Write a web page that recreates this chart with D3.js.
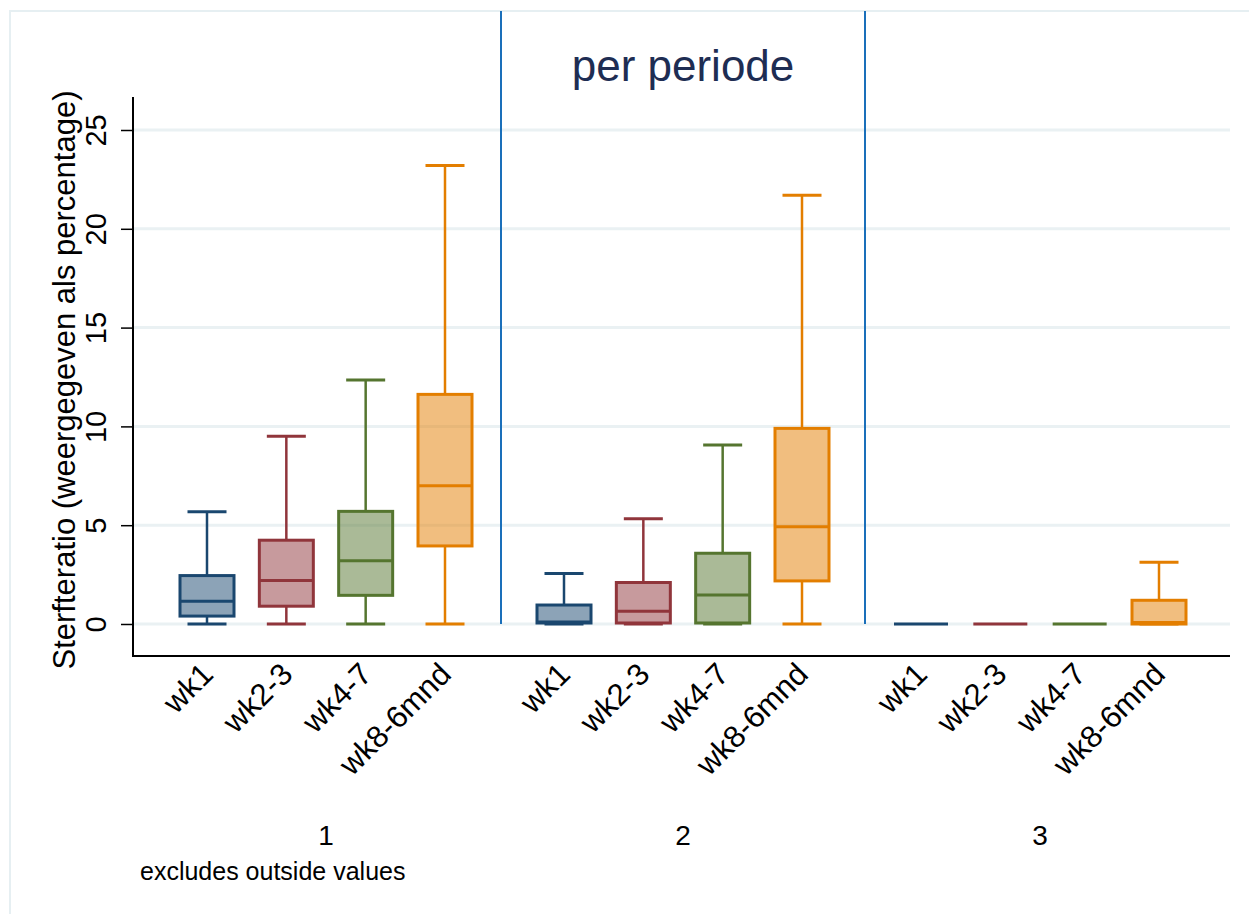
<!DOCTYPE html>
<html lang="nl">

<head>
    <meta charset="UTF-8">
    <title>per periode</title>
    <script src="https://d3js.org/d3.v7.min.js"></script>
    <style>
        body { margin: 0; background: #fff; }
        svg text { font-family: "Liberation Sans", Arial, sans-serif; }
    </style>
</head>

<body>
    <svg width="1249" height="914" class="block"></svg>
</body>

<script>
    // groepen (periode) en categorieen
    var groups = ['1', '2', '3'];
    var cats = ['wk1', 'wk2-3', 'wk4-7', 'wk8-6mnd'];
    var colors = ['#1a476f', '#90353b', '#55752f', '#e37e00'];
    var yTicks = [0, 5, 10, 15, 20, 25];

    // boxplot waarden per groep, in volgorde van cats
    var lower = [[0, 0, 0, 0], [0, 0, 0, 0], [0, 0, 0, 0]];
    var q1 = [[0.4, 0.9, 1.45, 3.95], [0.05, 0.05, 0.05, 2.18], [0, 0, 0, 0]];
    var median = [[1.15, 2.2, 3.2, 7.0], [0.1, 0.65, 1.47, 4.92], [0, 0, 0, 0.08]];
    var q3 = [[2.45, 4.24, 5.7, 11.62], [0.96, 2.1, 3.58, 9.9], [0, 0, 0, 1.2]];
    var upper = [[5.68, 9.5, 12.35, 23.2], [2.55, 5.33, 9.06, 21.7], [0, 0, 0, 3.12]];

    var svg = d3.select('.block');

    // rand rondom de grafiek
    svg.append('rect')
        .attr('x', 10).attr('y', 11)
        .attr('width', 1400).attr('height', 1000)
        .attr('fill', 'none')
        .attr('stroke', '#e6eff2')
        .attr('stroke-width', 2);

    var plotL = 133, plotR = 1230, plotT = 97, plotB = 656;

    var y = d3.scaleLinear().domain([-1.62, 26.67]).range([plotB, plotT]);
    var xGroup = d3.scaleBand().domain(groups).range([147.5, 1218.5]);
    var xCat = d3.scalePoint().domain(cats).range([-119, 119]);

    function cx(gi, ci) {
        return xGroup(groups[gi]) + xGroup.bandwidth() / 2 + xCat(cats[ci]);
    }

    // rasterlijnen
    svg.append('g').selectAll('line')
        .data(yTicks)
        .enter()
        .append('line')
        .attr('x1', plotL).attr('x2', plotR)
        .attr('y1', function (d) { return y(d); })
        .attr('y2', function (d) { return y(d); })
        .attr('stroke', '#eaf1f3')
        .attr('stroke-width', 3);

    // y-as
    var yAxis = d3.axisLeft(y).tickValues(yTicks).tickSize(12).tickSizeOuter(0).tickFormat(d3.format('d'));
    var ga = svg.append('g')
        .attr('transform', 'translate(' + plotL + ',0)')
        .call(yAxis);
    ga.select('.domain').attr('d', 'M0,' + plotT + 'V' + plotB).attr('stroke', '#000').attr('stroke-width', 2);
    ga.selectAll('.tick line').attr('stroke', '#000').attr('stroke-width', 1.5);
    ga.selectAll('.tick text')
        .attr('x', 0).attr('y', 0).attr('dy', 0)
        .attr('transform', 'translate(-27,0) rotate(-90)')
        .attr('text-anchor', 'middle')
        .attr('font-size', 29)
        .attr('fill', '#000');

    // x-as lijn
    svg.append('line')
        .attr('x1', plotL - 1).attr('x2', plotR)
        .attr('y1', plotB).attr('y2', plotB)
        .attr('stroke', '#000').attr('stroke-width', 2);

    // scheidingslijnen tussen de periodes
    svg.append('g').selectAll('line')
        .data([501, 865])
        .enter()
        .append('line')
        .attr('x1', function (d) { return d; })
        .attr('x2', function (d) { return d; })
        .attr('y1', 11).attr('y2', y(0))
        .attr('stroke', '#1a6fba')
        .attr('stroke-width', 2);

    // boxen
    var boxes = [];
    groups.forEach(function (g, gi) {
        cats.forEach(function (c, ci) {
            boxes.push({
                gi: gi, ci: ci, lo: lower[gi][ci], q1: q1[gi][ci], med: median[gi][ci],
                q3: q3[gi][ci], hi: upper[gi][ci]
            });
        });
    });

    var boxW = 54, capW = 39;
    var b = svg.append('g').selectAll('g')
        .data(boxes)
        .enter()
        .append('g')
        .attr('stroke', function (d) { return colors[d.ci]; })
        .attr('fill', 'none');

    // whiskers
    b.append('line')
        .attr('x1', function (d) { return cx(d.gi, d.ci); })
        .attr('x2', function (d) { return cx(d.gi, d.ci); })
        .attr('y1', function (d) { return y(d.hi); })
        .attr('y2', function (d) { return y(d.q3); })
        .attr('stroke-width', 2.5);
    b.append('line')
        .attr('x1', function (d) { return cx(d.gi, d.ci); })
        .attr('x2', function (d) { return cx(d.gi, d.ci); })
        .attr('y1', function (d) { return y(d.q1); })
        .attr('y2', function (d) { return y(d.lo); })
        .attr('stroke-width', 2.5);
    // caps
    b.filter(function (d) { return d.hi > d.q3; })
        .selectAll('.cap')
        .data(function (d) { return [{ d: d, v: d.hi }, { d: d, v: d.lo }]; })
        .enter()
        .append('line')
        .attr('x1', function (e) { return cx(e.d.gi, e.d.ci) - capW / 2; })
        .attr('x2', function (e) { return cx(e.d.gi, e.d.ci) + capW / 2; })
        .attr('y1', function (e) { return y(e.v); })
        .attr('y2', function (e) { return y(e.v); })
        .attr('stroke-width', 3);

    // box
    b.append('rect')
        .attr('x', function (d) { return cx(d.gi, d.ci) - boxW / 2; })
        .attr('y', function (d) { return y(d.q3); })
        .attr('width', boxW)
        .attr('height', function (d) { return y(d.q1) - y(d.q3); })
        .attr('fill', function (d) { return colors[d.ci]; })
        .attr('fill-opacity', 0.5)
        .attr('stroke-width', 3);
    // mediaan
    b.append('line')
        .attr('x1', function (d) { return cx(d.gi, d.ci) - boxW / 2; })
        .attr('x2', function (d) { return cx(d.gi, d.ci) + boxW / 2; })
        .attr('y1', function (d) { return y(d.med); })
        .attr('y2', function (d) { return y(d.med); })
        .attr('stroke-width', 3);

    // categorie labels, schuin
    svg.append('g').selectAll('text')
        .data(boxes)
        .enter()
        .append('text')
        .attr('transform', function (d) {
            return 'translate(' + (cx(d.gi, d.ci) + 8) + ',' + 676 + ') rotate(-45)';
        })
        .attr('text-anchor', 'end')
        .attr('font-size', 31)
        .attr('fill', '#000')
        .text(function (d) { return cats[d.ci]; });

    // groep labels
    svg.append('g').selectAll('text')
        .data(groups)
        .enter()
        .append('text')
        .attr('x', function (d) { return xGroup(d) + xGroup.bandwidth() / 2; })
        .attr('y', 845)
        .attr('text-anchor', 'middle')
        .attr('font-size', 28)
        .attr('fill', '#000')
        .text(function (d) { return d; });

    // titel
    svg.append('text')
        .attr('x', 683).attr('y', 81)
        .attr('text-anchor', 'middle')
        .attr('font-size', 44)
        .attr('fill', '#1e2d53')
        .text('per periode');

    // y-as titel
    svg.append('text')
        .attr('transform', 'translate(75,380) rotate(-90)')
        .attr('text-anchor', 'middle')
        .attr('font-size', 31)
        .attr('fill', '#000')
        .text('Sterfteratio (weergegeven als percentage)');

    // noot
    svg.append('text')
        .attr('x', 140).attr('y', 880)
        .attr('font-size', 25)
        .attr('fill', '#000')
        .text('excludes outside values');
</script>

</html>
